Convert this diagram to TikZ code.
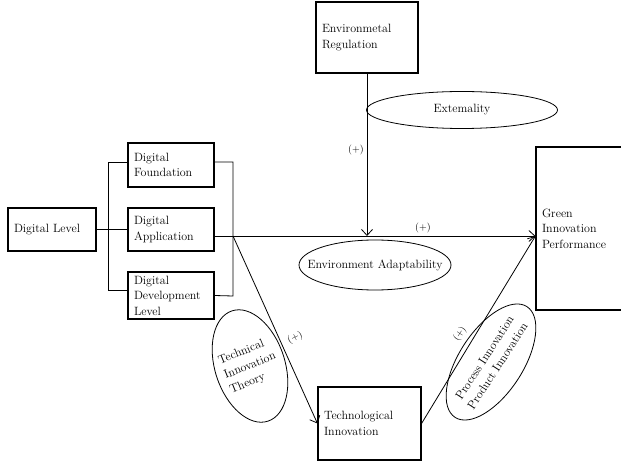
\documentclass[tikz,border=0pt]{standalone}
\usepackage{tikz}
\usetikzlibrary{arrows.meta,shapes.geometric}

\tikzset{
  box/.style={draw, line width=1.1pt, align=left, inner xsep=6pt, inner ysep=1pt},
  link/.style={line width=0.8pt},
  arr/.style={link, -{Straight Barb[length=6pt,width=11pt]}},
  oval/.style={line width=0.8pt},
  plus/.style={font=\fontsize{10}{12}\selectfont},
}

\begin{document}
\begin{tikzpicture}[x=1pt, y=-1pt, every node/.style={font=\fontsize{12}{15.5}\selectfont}]
  \useasboundingbox (0, 0) rectangle (621, 462);

  % boxes
  \node (dl) at (52, 229.5) [box, text width=76pt, minimum height=43pt] {Digital Level};
  \node (df) at (171, 165) [box, text width=74pt, minimum height=44pt] {Digital\\Foundation};
  \node (da) at (171, 229.5) [box, text width=74pt, minimum height=43pt] {Digital\\Application};
  \node (ddl) at (171, 295.5) [box, text width=74pt, minimum height=47pt] {Digital\\Development\\Level};
  \node (er) at (367, 37.5) [box, text width=90pt, minimum height=71pt] {Environmetal\\Regulation};
  \node (ti) at (369.5, 423.5) [box, text width=91pt, minimum height=73pt] {Technological\\Innovation};
  \node (gip) at (591, 228.5) [box, text width=98pt, minimum height=163pt] {Green\\Innovation\\Performance};

  % brackets
  \coordinate (lt) at (108, 162);
  \coordinate (lb) at (108, 290);
  \coordinate (rt) at (233, 162);
  \coordinate (rb) at (233, 296);
  \coordinate (jn) at (233, 236);
  \draw [link] (dl.east) -- (da.west);
  \draw [link] ([yshift=3pt]df.west) -- (lt) -- (lb) -- ([yshift=5.5pt]ddl.west);
  \draw [link] ([yshift=3pt]df.east) -- (rt) -- (rb) -- (ddl.east);
  \draw [link] ([yshift=-6.5pt]da.east) -- (jn);

  % arrows
  \draw [arr] (jn) -- (jn -| gip.west);
  \draw [arr] (er.south) -- (er.south |- jn);
  \draw [arr] (jn) -- (ti.west);
  \draw [arr] (ti.east) -- (jn -| gip.west);

  \node (p1) at (356, 150) [plus] {(+)};
  \node (p2) at (423, 228) [plus] {(+)};
  \node (p3) at (295, 338) [plus, rotate=25] {(+)};
  \node (p4) at (460, 334) [plus, rotate=57] {(+)};

  % ellipses
  \node (ext) at (462, 110) [draw, oval, ellipse, minimum width=191pt, minimum height=37pt] {Extemality};
  \node (ea) at (375, 265) {Environment Adaptability};
  \draw [oval] (ea.center) ellipse (76pt and 25pt);
  \node (tit) at (250, 366) [rotate=22, align=left] {Technical\\Innovation\\Theory};
  \draw [oval, rotate around={-72:(tit.center)}] (tit.center) ellipse (58pt and 35pt);
  \node (pin) at (491, 362) [rotate=57, align=center] {Process Innovation\\Product Innovation};
  \draw [oval, rotate around={57:(pin.center)}] (pin.center) ellipse (66pt and 32pt);
\end{tikzpicture}
\end{document}
